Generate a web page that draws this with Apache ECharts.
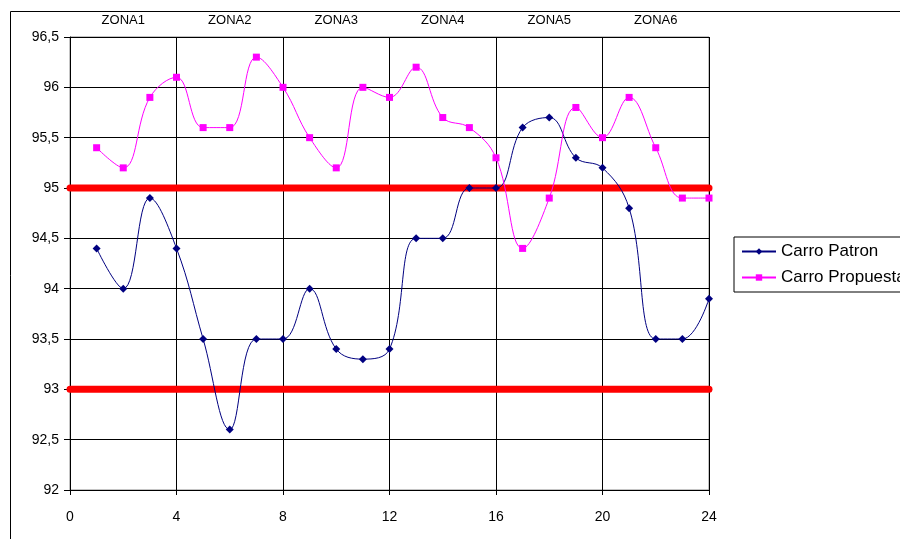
<!DOCTYPE html>
<html>
<head>
<meta charset="utf-8">
<script src="https://cdn.jsdelivr.net/npm/echarts@6/dist/echarts.min.js"></script>
<style>
  html, body { margin: 0; padding: 0; background: #fff; }
  #chart { width: 900px; height: 539px; }
</style>
</head>
<body>
<div id="chart"></div>
<script>
// Hours along the x axis (1..24)
const hours = [1,2,3,4,5,6,7,8,9,10,11,12,13,14,15,16,17,18,19,20,21,22,23,24];
// Measured values per hour
const carroPatron = [94.4,94.0,94.9,94.4,93.5,92.6,93.5,93.5,94.0,93.4,93.3,93.4,94.5,94.5,95.0,95.0,95.6,95.7,95.3,95.2,94.8,93.5,93.5,93.9];
const carroPropuesta = [95.4,95.2,95.9,96.1,95.6,95.6,96.3,96.0,95.5,95.2,96.0,95.9,96.2,95.7,95.6,95.3,94.4,94.9,95.8,95.5,95.9,95.4,94.9,94.9];
// Limit lines
const upperLimit = 95;
const lowerLimit = 93;
// Zone labels along the top
const zones = ['ZONA1','ZONA2','ZONA3','ZONA4','ZONA5','ZONA6'];

const pairs = (xs, ys) => xs.map((x, i) => [x, ys[i]]);
const font = 'Liberation Sans, Arial, sans-serif';

const chart = echarts.init(document.getElementById('chart'), null, { renderer: 'canvas' });
chart.setOption({
  animation: false,
  backgroundColor: '#fff',
  graphic: [{
    type: 'polyline',
    shape: { points: [[10.5, 539], [10.5, 11.5], [900, 11.5]] },
    style: { stroke: '#000', lineWidth: 1, fill: null },
    z: 0
  }],
  grid: { left: 70, right: 191, top: 37, bottom: 49, show: true, borderColor: '#888', borderWidth: 1 },
  legend: {
    left: 734, top: 237,
    orient: 'vertical',
    data: ['Carro Patron', 'Carro Propuesta'],
    borderColor: '#000', borderWidth: 1,
    padding: [6, 40, 6, 7],
    itemGap: 9,
    itemWidth: 34, itemHeight: 8,
    textStyle: { fontFamily: font, fontSize: 17, color: '#000' }
  },
  xAxis: [{
    type: 'value', min: 0, max: 24, interval: 4,
    axisLine: { show: true, lineStyle: { color: '#000' } },
    axisTick: { show: true, length: 5, lineStyle: { color: '#000' } },
    axisLabel: { fontFamily: font, fontSize: 14, color: '#000', margin: 20 },
    splitLine: { show: true, lineStyle: { color: '#000', width: 1 } }
  }, {
    type: 'category', position: 'top', data: zones,
    axisLine: { show: false }, axisTick: { show: false },
    axisLabel: { fontFamily: font, fontSize: 13, color: '#000', margin: 10 },
    splitLine: { show: false }
  }],
  yAxis: {
    type: 'value', min: 92, max: 96.5, interval: 0.5,
    axisLine: { show: true, lineStyle: { color: '#000' } },
    axisTick: { show: true, length: 6, lineStyle: { color: '#000' } },
    axisLabel: {
      fontFamily: font, fontSize: 14, color: '#000', margin: 11,
      formatter: v => String(v).replace('.', ',')
    },
    splitLine: { show: true, lineStyle: { color: '#000', width: 1 } }
  },
  series: [{
    name: 'limit95', type: 'line', data: [[0, upperLimit], [24, upperLimit]],
    symbol: 'none', silent: true,
    lineStyle: { color: '#ff0000', width: 7, cap: 'round' }, z: 3
  }, {
    name: 'limit93', type: 'line', data: [[0, lowerLimit], [24, lowerLimit]],
    symbol: 'none', silent: true,
    lineStyle: { color: '#ff0000', width: 7, cap: 'round' }, z: 3
  }, {
    name: 'Carro Patron', type: 'line', data: pairs(hours, carroPatron),
    smooth: 0.4, symbol: 'diamond', symbolSize: 8,
    itemStyle: { color: '#000080' },
    lineStyle: { color: '#000080', width: 1 }, z: 4
  }, {
    name: 'Carro Propuesta', type: 'line', data: pairs(hours, carroPropuesta),
    smooth: 0.4, symbol: 'rect', symbolSize: 7,
    itemStyle: { color: '#ff00ff' },
    lineStyle: { color: '#ff00ff', width: 1 }, z: 4
  }]
});
</script>
</body>
</html>
